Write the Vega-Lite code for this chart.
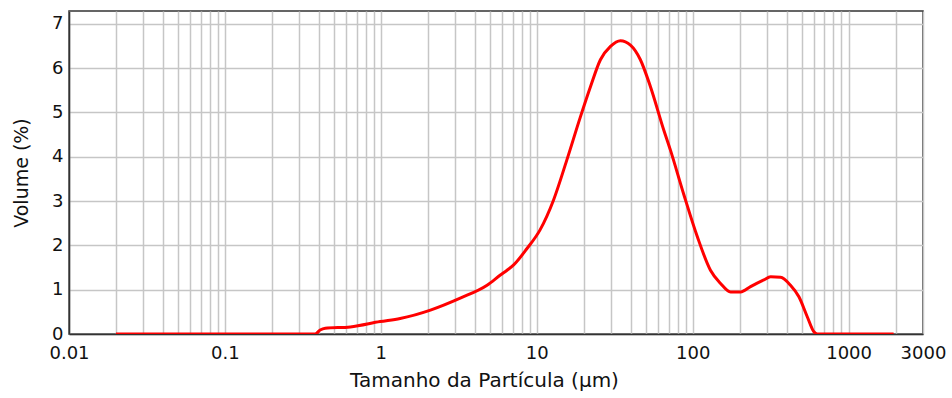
{
  "$schema": "https://vega.github.io/schema/vega-lite/v6.json",
  "width": 854,
  "height": 323,
  "autosize": {"type": "none"},
  "padding": {"left": 69, "top": 11, "right": 29, "bottom": 64},
  "background": "white",
  "config": {
    "font": "DejaVu Sans",
    "view": {"stroke": "#333333", "strokeWidth": 1.5}
  },
  "data": {
    "values": [
      {"size": 0.02, "volume": 0},
      {"size": 0.379, "volume": 0},
      {"size": 0.408, "volume": 0.09},
      {"size": 0.44, "volume": 0.13},
      {"size": 0.637, "volume": 0.16},
      {"size": 0.99, "volume": 0.28},
      {"size": 1.33, "volume": 0.35},
      {"size": 2.08, "volume": 0.54},
      {"size": 3.23, "volume": 0.81},
      {"size": 4.8, "volume": 1.1},
      {"size": 5.84, "volume": 1.33},
      {"size": 6.45, "volume": 1.44},
      {"size": 7.11, "volume": 1.56},
      {"size": 8.66, "volume": 1.93},
      {"size": 10.5, "volume": 2.35},
      {"size": 12.8, "volume": 3.02},
      {"size": 15.6, "volume": 3.93},
      {"size": 19.05, "volume": 4.9},
      {"size": 22.1, "volume": 5.58},
      {"size": 25.6, "volume": 6.19},
      {"size": 29.7, "volume": 6.49},
      {"size": 34.4, "volume": 6.62},
      {"size": 39.9, "volume": 6.52},
      {"size": 46.2, "volume": 6.19},
      {"size": 53.6, "volume": 5.58},
      {"size": 65.3, "volume": 4.6},
      {"size": 72, "volume": 4.15},
      {"size": 87.7, "volume": 3.15},
      {"size": 107, "volume": 2.2},
      {"size": 130, "volume": 1.44},
      {"size": 151, "volume": 1.14},
      {"size": 175, "volume": 0.95},
      {"size": 203, "volume": 0.95},
      {"size": 235, "volume": 1.07},
      {"size": 286, "volume": 1.22},
      {"size": 316, "volume": 1.29},
      {"size": 366, "volume": 1.28},
      {"size": 424, "volume": 1.1},
      {"size": 480, "volume": 0.84},
      {"size": 543, "volume": 0.39},
      {"size": 599, "volume": 0.05},
      {"size": 630, "volume": 0},
      {"size": 1945, "volume": 0}
    ]
  },
  "mark": {"type": "line", "color": "#ff0000", "strokeWidth": 3, "interpolate": "monotone", "clip": true},
  "encoding": {
    "x": {
      "field": "size",
      "type": "quantitative",
      "scale": {"type": "log", "domain": [0.01, 3000], "nice": false},
      "axis": {
        "title": "Tamanho da Partícula (µm)",
        "values": [0.01, 0.02, 0.03, 0.04, 0.05, 0.06, 0.07, 0.08, 0.09, 0.1, 0.2, 0.3, 0.4, 0.5, 0.6, 0.7, 0.8, 0.9, 1, 2, 3, 4, 5, 6, 7, 8, 9, 10, 20, 30, 40, 50, 60, 70, 80, 90, 100, 200, 300, 400, 500, 600, 700, 800, 900, 1000, 2000, 3000],
        "labelExpr": "indexof([0.01, 0.1, 1, 10, 100, 1000, 3000], datum.value) >= 0 ? format(datum.value, '~g') : ''",
        "labelOverlap": false,
        "labelFlush": false,
        "labelBound": false,
        "labelFontSize": 18,
        "labelColor": "#111111",
        "labelPadding": 10,
        "ticks": false,
        "domain": true,
        "domainColor": "#333333",
        "domainWidth": 1.5,
        "grid": true,
        "gridColor": "#c6c6c6",
        "gridWidth": 1.5,
        "titleFontSize": 20,
        "titleFontWeight": "normal",
        "titleColor": "#111111",
        "titlePadding": 8,
        "titleX": 415,
        "titleAnchor": "middle"
      }
    },
    "y": {
      "field": "volume",
      "type": "quantitative",
      "scale": {"domain": [0, 7.29], "nice": false},
      "axis": {
        "title": "Volume (%)",
        "values": [0, 1, 2, 3, 4, 5, 6, 7],
        "labelFontSize": 18,
        "labelColor": "#111111",
        "labelPadding": 6,
        "labelFlush": false,
        "labelBound": false,
        "ticks": false,
        "domain": true,
        "domainColor": "#333333",
        "domainWidth": 1.5,
        "grid": true,
        "gridColor": "#c6c6c6",
        "gridWidth": 1.5,
        "titleFontSize": 19,
        "titleFontWeight": "normal",
        "titleColor": "#111111",
        "titlePadding": 20
      }
    }
  }
}
